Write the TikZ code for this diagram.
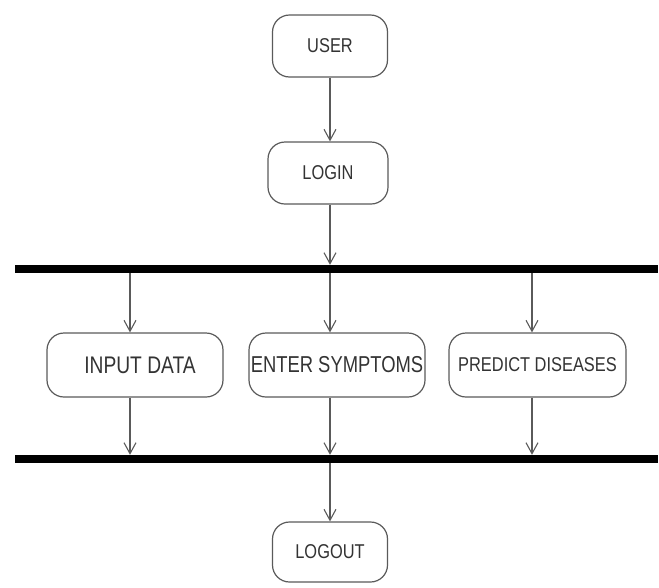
\documentclass[tikz,border=0pt]{standalone}
\usepackage{fontspec}
\setmainfont{Liberation Sans}
\usetikzlibrary{arrows.meta}
\definecolor{edge}{HTML}{5A5A5A}
\definecolor{txt}{HTML}{333333}
\newcommand{\lbl}[3]{\scalebox{#1}[1]{\fontsize{#2}{#2}\selectfont #3}}
\begin{document}
\begin{tikzpicture}[x=1pt,y=-1pt,
  act/.style={draw=edge,line width=1.2pt,rounded corners=17pt,fill=white,text=txt,inner sep=0pt,align=center},
  bar/.style={fill=black,draw=none,inner sep=0pt,minimum width=643pt,minimum height=8pt},
  arr/.style={draw=edge,line width=1.1pt,-{Straight Barb[length=11pt,width=12pt,line width=1.1pt]}}]
\useasboundingbox (0,0) rectangle (659,587);
\node[act,minimum width=115pt,minimum height=62pt] (user) at (330,46) {\lbl{0.82}{20}{USER}};
\node[act,minimum width=120pt,minimum height=62pt] (login) at (328,173) {\lbl{0.82}{20}{LOGIN}};
\node[bar] (bar1) at (336.5,269) {};
\node[act,minimum width=176pt,minimum height=64pt] (input) at (135,365) {\hspace*{10pt}\lbl{0.8}{24}{INPUT DATA}};
\node[act,minimum width=176pt,minimum height=64pt] (enter) at (337,365) {\lbl{0.8}{23}{ENTER SYMPTOMS}};
\node[act,minimum width=177pt,minimum height=64pt] (predict) at (537.5,365) {\lbl{0.82}{20}{PREDICT DISEASES}};
\node[bar] (bar2) at (336.5,459) {};
\node[act,minimum width=115pt,minimum height=60pt] (logout) at (330,552) {\lbl{0.82}{20}{LOGOUT}};
\draw[arr] (user.south) -- (user.south |- login.north);
\draw[arr] (login.south -| user.south) -- (bar1.north -| user.south);
\draw[arr] ([xshift=-5pt]input.north |- bar1.south) -- ([xshift=-5pt]input.north);
\draw[arr] ([xshift=-7pt]enter.north |- bar1.south) -- ([xshift=-7pt]enter.north);
\draw[arr] ([xshift=-5.5pt]predict.north |- bar1.south) -- ([xshift=-5.5pt]predict.north);
\draw[arr] ([xshift=-5pt]input.south) -- ([xshift=-5pt]input.south |- bar2.north);
\draw[arr] ([xshift=-7pt]enter.south) -- ([xshift=-7pt]enter.south |- bar2.north);
\draw[arr] ([xshift=-5.5pt]predict.south) -- ([xshift=-5.5pt]predict.south |- bar2.north);
\draw[arr] (logout.north |- bar2.south) -- (logout.north);
\end{tikzpicture}
\end{document}
